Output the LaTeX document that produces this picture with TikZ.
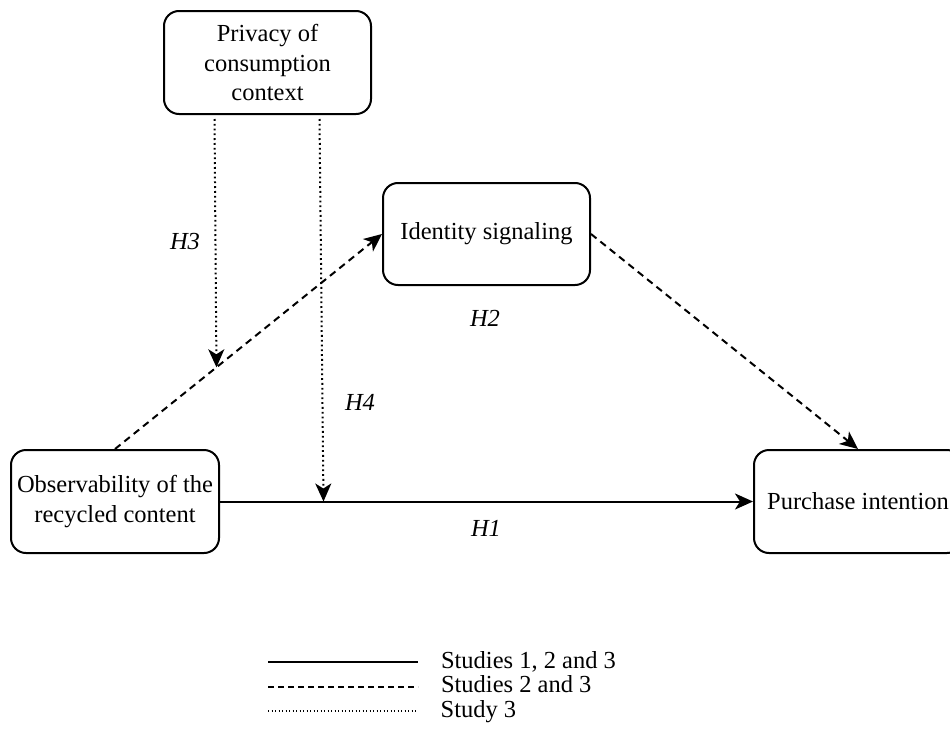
\documentclass[tikz,border=0pt]{standalone}
\usepackage{fontspec}
\setmainfont{Liberation Serif}
\usetikzlibrary{calc}
\usetikzlibrary{arrows.meta}

\begin{document}
\begin{tikzpicture} [x=1pt, y=-1pt, font=\fontsize{24.5}{29.5}\selectfont,
  box/.style={draw, line width=2pt, rounded corners=15pt, align=center, inner sep=2pt, minimum height=103pt},
  link/.style={line width=2pt, -{Stealth[length=18pt, width=16pt, inset=5pt]}},
  dashlink/.style={link, dash pattern=on 7pt off 5pt},
  dotlink/.style={link, line width=2pt, dash pattern=on 1.8pt off 3pt},
  hyp/.style={font=\fontsize{24.5}{29.5}\selectfont\itshape},
  lgsolid/.style={line width=2pt},
  lgdash/.style={line width=2pt, dash pattern=on 6pt off 4pt},
  lgdot/.style={line width=1.3pt, dash pattern=on 1.3pt off 2.2pt}]
\useasboundingbox (0,0) rectangle (950,736);

\node[box, minimum width=207pt] (privacy) at (267.5,62.5) {Privacy of\\ consumption\\ context};
\node[box, minimum width=207pt, minimum height=102pt] (identity) at (486.5,234) {Identity signaling};
\node[box, minimum width=208pt] (observ) at (115,501.5) {Observability of the\\ recycled content};
\node[box, minimum width=208pt] (purchase) at (858,501.5) {Purchase intention};

\draw[link] (observ.east) -- (purchase.west);
\draw[dashlink] (observ.north) -- (identity.west);
\draw[dashlink] (identity.east) -- (purchase.north);

\coordinate (h3end) at ($(observ.north)!0.38!(identity.west)$);
\coordinate (h4end) at (323.5,501.5);
\draw[dotlink] ($(privacy.south)+(-53,4)$) -- (h3end);
\draw[dotlink] ($(privacy.south)+(52,4)$) -- (h4end);

\node[hyp] (hthree) at (185,242) {H3};
\node[hyp] (htwo) at (485,318) {H2};
\node[hyp] (hfour) at (360,402) {H4};
\node[hyp] (hone) at (486,528) {H1};

\foreach \st/\txt [count=\i] in {lgsolid/{Studies 1, 2 and 3}, lgdash/{Studies 2 and 3}, lgdot/{Study 3}}
  {\coordinate (leg\i) at (268,637.5+24.5*\i);
   \draw[\st] (leg\i) --++(150,0) node[anchor=base west, xshift=22pt, yshift=-6pt, inner sep=0pt, text height=16pt, text depth=5pt] (legtxt\i) {\txt};}

\end{tikzpicture}
\end{document}
